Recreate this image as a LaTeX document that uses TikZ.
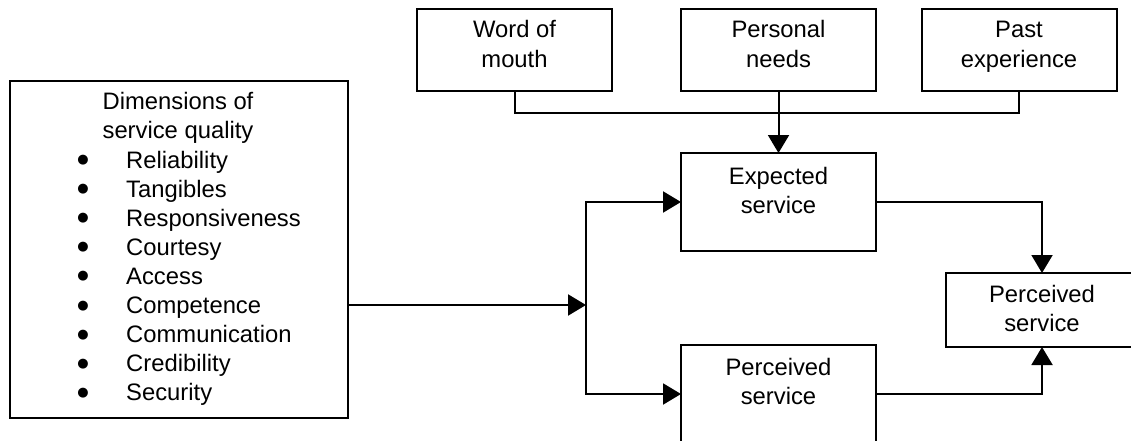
\documentclass[tikz,border=0pt]{standalone}
\usepackage{fontspec}
\setmainfont{Liberation Sans}
\newfontfamily\bulletfont{DejaVu Sans}
\usetikzlibrary{arrows.meta}
\begin{document}
\begin{tikzpicture}[x=1pt,y=-1pt,
  box/.style={draw, line width=2pt, inner sep=0pt, outer sep=0pt,
              minimum width=#1},
  box/.default=195pt,
  txt/.style={inner sep=0pt, anchor=base, font=\fontsize{23.8}{29}\selectfont},
  bullet/.style={inner sep=0pt, anchor=base,
                 font=\bulletfont\fontsize{13}{16}\selectfont},
  item/.style={txt, anchor=base west},
  wire/.style={line width=2pt},
  arr/.style={wire, -{Triangle[length=18pt,width=21pt]}}]
\useasboundingbox (0,0) rectangle (1131,441);
\clip (0,0) rectangle (1131,441);

% sources of expectation
\node[box, minimum height=82pt] (wom) at (514.5,50) {};
\node[txt] (wom1) at (514.5,38) {Word of};
\node[txt] (wom2) at (514.5,67.5) {mouth};

\node[box, minimum height=82pt] (pn) at (778.5,50) {};
\node[txt] (pn1) at (778.5,38) {Personal};
\node[txt] (pn2) at (778.5,67.5) {needs};

\node[box, minimum height=82pt] (pe) at (1019,50) {};
\node[txt] (pe1) at (1019,38) {Past};
\node[txt] (pe2) at (1019,67.5) {experience};

% expected and perceived service
\node[box, minimum height=98pt] (exp) at (778.5,202) {};
\node[txt] (exp1) at (778.5,184) {Expected};
\node[txt] (exp2) at (778.5,213) {service};

\node[box, minimum height=98pt] (perc) at (778.5,394) {};
\node[txt] (perc1) at (778.5,375) {Perceived};
\node[txt] (perc2) at (778.5,404) {service};

\node[box=192pt, minimum height=74pt] (res) at (1042,310) {};
\node[txt] (res1) at (1042,302) {Perceived};
\node[txt] (res2) at (1042,331) {service};

% dimensions of service quality
\node[box=338pt, minimum height=337pt] (dims) at (179,249.5) {};
\node[txt] (dh1) at (178,110) {Dimensions of};
\node[txt] (dh2) at (178,139) {service quality};
\foreach \t [count=\i from 0] in {Reliability,Tangibles,Responsiveness,Courtesy,
    Access,Competence,Communication,Credibility,Security}{
  \node[bullet] (bul\i) at (83,{163.5+29.1*\i}) {●};
  \node[item] (it\i) at (126,{168+29.1*\i}) {\t};
}

% connectors
\coordinate (bus) at (778.5,113);
\coordinate (br) at (586,305);
\draw[wire] (wom.south) |- (bus) -| (pe.south);
\draw[arr] (pn.south) -- (exp.north);
\draw[arr] (dims.east |- br) -- (br);
\draw[arr] (br) |- (exp.west);
\draw[arr] (br) |- (perc.west);
\draw[arr] (exp.east) -| (res.north);
\draw[arr] (perc.east) -| (res.south);
\end{tikzpicture}
\end{document}
